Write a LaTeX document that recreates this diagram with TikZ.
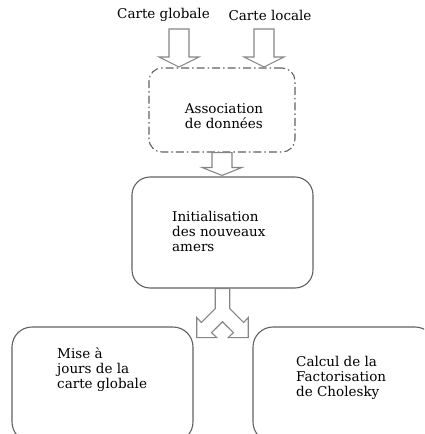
\documentclass[tikz,border=0pt]{standalone}
\usepackage{fontspec}
\setmainfont{DejaVu Serif}
\usetikzlibrary{calc}
\begin{document}
\begin{tikzpicture}[x=1pt,y=-1pt,
  txt/.style={inner sep=0pt, align=left, font=\fontsize{13.5}{15.2}\selectfont, text=black},
  box/.style={draw=black!62, line width=1.1pt, rectangle, minimum width=#1, inner sep=0pt},
  blockarrow/.style={draw=black!48, line width=1.1pt, fill=white, line join=miter}]
\useasboundingbox (0,0) rectangle (424,434);
\clip (0,0) rectangle (424,434);

% labels at the top
\node[txt] (cg) at (163.5,15) {Carte globale};
\node[txt] (cl) at (270,15) {Carte locale};

% boxes
\node[box=146pt, minimum height=84pt, rounded corners=13pt,
      dash pattern=on 8pt off 3pt on 1.5pt off 3pt] (assoc) at (222,110) {};
\node[box=181pt, minimum height=111pt, rounded corners=18pt] (init) at (222.5,232.5) {};
\node[box=181pt, minimum height=115pt, rounded corners=20pt] (maj) at (102.5,384.5) {};
\node[box=182pt, minimum height=115pt, rounded corners=20pt] (chol) at (344,384.5) {};

% texts
\node[txt] (tassoc) at (224,116) {Association\\de données};
\node[txt, anchor=west] (tinit) at (172,231.5) {Initialisation\\des nouveaux\\amers};
\node[txt, anchor=west] (tmaj) at (57,369.5) {Mise à\\jours de la\\carte globale};
\node[txt, anchor=west] (tchol) at (296,378) {Calcul de la\\Factorisation\\de Cholesky};

% block arrows
\coordinate (a1top) at (179,29);
\coordinate (a1tip) at (179,67);
\coordinate (a2top) at (264,29);
\coordinate (a2tip) at (264,67);
\draw[blockarrow] let \p1=(a1top), \p2=(a1tip) in
  (\x1-10pt,\y1) -- (\x1-10pt,\y2+10pt) -- (\x1-20pt,\y2+10pt) -- (\x2,\y2)
  -- (\x1+20pt,\y2+10pt) -- (\x1+10pt,\y2+10pt) -- (\x1+10pt,\y1) -- cycle;
\draw[blockarrow] let \p1=(a2top), \p2=(a2tip) in
  (\x1-10pt,\y1) -- (\x1-10pt,\y2+10pt) -- (\x1-20pt,\y2+10pt) -- (\x2,\y2)
  -- (\x1+20pt,\y2+10pt) -- (\x1+10pt,\y2+10pt) -- (\x1+10pt,\y1) -- cycle;
\draw[blockarrow] let \p1=(assoc.south), \p2=(init.north) in
  (\x1-10pt,\y1) -- (\x1-10pt,\y2+9pt) -- (\x1-20pt,\y2+9pt) -- (\x1,\y2+1pt)
  -- (\x1+20pt,\y2+9pt) -- (\x1+10pt,\y2+9pt) -- (\x1+10pt,\y1) -- cycle;

% split arrow
\draw[blockarrow, shift={(init.south)}]
  (-7.25,0) -- (-7.25,20) -- (-21.15,33.9) -- (-25.75,29) -- (-25.75,49)
  -- (-5.75,49) -- (-10.95,44.1) -- (0,33.2) -- (10.95,44.1) -- (5.75,49)
  -- (25.75,49) -- (25.75,29) -- (21.15,33.9) -- (7.25,20) -- (7.25,0) -- cycle;
\end{tikzpicture}
\end{document}
